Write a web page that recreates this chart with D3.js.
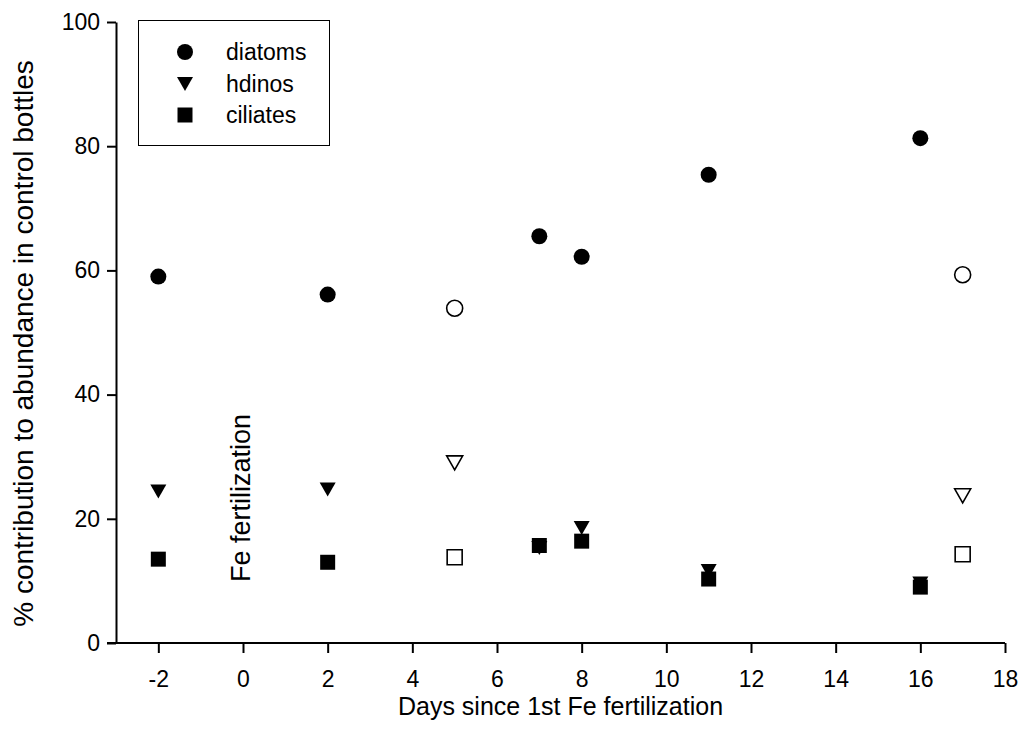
<!DOCTYPE html>
<html>
<head>
<meta charset="utf-8">
<script src="https://cdn.jsdelivr.net/npm/d3@7"></script>
<style>
  body { margin: 0; background: #fff; }
  svg text { font-family: "Liberation Sans", Arial, sans-serif; fill: #000; }
</style>
</head>
<body>
<svg id="chart" width="1023" height="749"></svg>
<script>
// values
var days = [-2, 2, 5, 7, 8, 11, 16, 17];
var diatoms = [59.0, 56.1, 53.9, 65.5, 62.2, 75.4, 81.3, 59.3];
var hdinos = [24.4, 24.7, 29.0, 15.3, 18.5, 11.6, 9.6, 23.7];
var ciliates = [13.5, 13.0, 13.8, 15.7, 16.4, 10.3, 9.0, 14.3];
var openDays = [5, 17]; // drawn as hollow symbols
var xTicks = [-2, 0, 2, 4, 6, 8, 10, 12, 14, 16, 18];
var yTicks = [0, 20, 40, 60, 80, 100];
var seriesNames = ["diatoms", "hdinos", "ciliates"];

var svg = d3.select("#chart");

var x = d3.scaleLinear().domain([-3, 18]).range([116, 1005]);
var y = d3.scaleLinear().domain([0, 100]).range([643, 22]);

// symbol paths
var circlePath = d3.symbol().type(d3.symbolCircle).size(Math.PI * 64)();
var squarePath = "M-7.5,-7.5H7.5V7.5H-7.5Z";
var triPath = "M-8,-7L8,-7L0,7Z";
var shapes = { diatoms: circlePath, hdinos: triPath, ciliates: squarePath };
var values = { diatoms: diatoms, hdinos: hdinos, ciliates: ciliates };

// y axis
var yAxis = svg.append("g")
  .attr("transform", "translate(116,0)")
  .call(d3.axisLeft(y).tickValues(yTicks).tickSize(9).tickSizeOuter(0).tickPadding(7));
yAxis.select(".domain").attr("stroke-width", 2);
yAxis.selectAll(".tick line").attr("stroke-width", 2);
yAxis.selectAll("text").style("font-size", "23px");

// x axis (plain hyphen for negatives, as in the original)
var xAxis = svg.append("g")
  .attr("transform", "translate(0,643)")
  .call(d3.axisBottom(x).tickValues(xTicks).tickFormat(function(d) { return String(d); })
    .tickSize(10).tickSizeOuter(0).tickPadding(18));
xAxis.select(".domain").remove();
xAxis.append("line")
  .attr("x1", 107).attr("x2", x(18))
  .attr("stroke", "#000").attr("stroke-width", 2);
xAxis.selectAll(".tick line").attr("stroke-width", 2);
xAxis.selectAll("text").style("font-size", "23px");

// axis titles
svg.append("text")
  .attr("x", (x.range()[0] + x.range()[1]) / 2)
  .attr("y", 715)
  .attr("text-anchor", "middle")
  .style("font-size", "25px")
  .text("Days since 1st Fe fertilization");

svg.append("text")
  .attr("transform", "translate(33," + ((y(0) + y(100)) / 2 + 11) + ") rotate(-90)")
  .attr("text-anchor", "middle")
  .style("font-size", "28px")
  .text("% contribution to abundance in control bottles");

// annotation at day 0
svg.append("text")
  .attr("transform", "translate(" + (x(0) + 7) + ",582) rotate(-90)")
  .attr("text-anchor", "start")
  .style("font-size", "27px")
  .text("Fe fertilization");

// points
seriesNames.forEach(function(name) {
  var data = days.map(function(d, i) {
    return { day: d, value: values[name][i], open: openDays.indexOf(d) >= 0 };
  });
  svg.append("g").attr("class", name)
    .selectAll("path").data(data)
    .enter().append("path")
    .attr("d", shapes[name])
    .attr("transform", function(d) { return "translate(" + x(d.day) + "," + y(d.value) + ")"; })
    .attr("fill", function(d) { return d.open ? "#fff" : "#000"; })
    .attr("stroke", "#000")
    .attr("stroke-width", function(d) { return d.open ? 1.6 : 0; });
});

// legend
var legend = svg.append("g");
legend.append("rect")
  .attr("x", 138.5).attr("y", 20.5)
  .attr("width", 191).attr("height", 125)
  .attr("fill", "none").attr("stroke", "#000").attr("stroke-width", 1);
var rowY = [52, 84, 115];
seriesNames.forEach(function(name, i) {
  legend.append("path")
    .attr("d", shapes[name])
    .attr("transform", "translate(185," + rowY[i] + ")")
    .attr("fill", "#000");
  legend.append("text")
    .attr("x", 226).attr("y", rowY[i] + 8)
    .style("font-size", "23px")
    .text(name);
});
</script>
</body>
</html>
